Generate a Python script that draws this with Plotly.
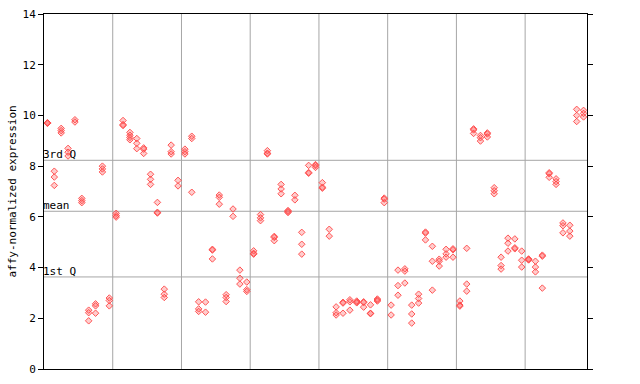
import plotly.graph_objects as go

# Expression values per sample (79 samples, replicates per sample)
sample_values = [
    [9.70, 9.69, 9.71], [7.80, 7.57, 7.24], [9.49, 9.40, 9.31], [8.70, 8.55, 8.40],
    [9.83, 9.74], [6.73, 6.64, 6.56], [2.32, 2.22, 1.90], [2.57, 2.49, 2.20],
    [8.00, 7.89, 7.77], [2.80, 2.70, 2.49], [6.14, 6.05, 5.99], [9.80, 9.64, 9.60],
    [9.33, 9.22, 9.13, 9.04], [9.09, 8.90, 8.69], [8.72, 8.67, 8.50], [7.68, 7.48, 7.28],
    [6.57, 6.18, 6.15], [3.15, 2.95, 2.82], [8.83, 8.57, 8.48], [7.44, 7.22],
    [8.67, 8.57, 8.48], [9.18, 9.09, 6.97], [2.65, 2.37, 2.27], [2.64, 2.24],
    [4.72, 4.69, 4.34], [6.86, 6.77, 6.50], [2.93, 2.82, 2.66], [6.31, 6.02],
    [3.90, 3.58, 3.35], [3.43, 3.13, 3.06], [4.66, 4.56, 4.53], [6.09, 5.96, 5.85],
    [8.61, 8.51, 8.48], [5.23, 5.19, 5.06], [7.28, 7.10, 6.91], [6.25, 6.21, 6.17],
    [6.85, 6.67], [5.39, 4.92, 4.53], [8.03, 7.75, 7.72], [8.06, 8.02, 7.95],
    [7.35, 7.17, 7.13], [5.51, 5.24], [2.45, 2.22, 2.13], [2.63, 2.60, 2.20],
    [2.73, 2.65, 2.32], [2.68, 2.64, 2.61], [2.65, 2.62, 2.44], [2.53, 2.20, 2.18],
    [2.76, 2.72, 2.68], [6.74, 6.70, 6.56], [2.52, 2.13], [3.90, 3.29, 2.91],
    [3.95, 3.86, 3.39], [2.52, 2.17, 1.81], [2.95, 2.78, 2.60], [5.40, 5.36, 5.09],
    [4.84, 4.25, 3.11], [4.33, 4.25, 4.06], [4.72, 4.54, 4.41], [4.74, 4.70, 4.41],
    [2.68, 2.52, 2.48], [4.76, 3.35, 3.07], [9.47, 9.43, 9.29], [9.21, 9.12, 8.99],
    [9.31, 9.27, 9.15], [7.15, 7.03, 6.91], [4.41, 4.08, 3.94], [5.16, 4.96, 4.65],
    [5.13, 4.78, 4.74], [4.65, 4.29, 4.02], [4.34, 4.32, 4.30], [4.25, 4.02, 3.83],
    [4.49, 4.45, 3.19], [7.74, 7.70, 7.56], [7.50, 7.39, 7.28], [5.76, 5.65, 5.37],
    [5.67, 5.44, 5.24], [10.24, 10.00, 9.76], [10.20, 10.08, 9.94],
]

ref_labels = ["3rd Q", "mean", "1st Q"]
ref_values = [8.23, 6.22, 3.63]

y_ticks = [0, 2, 4, 6, 8, 10, 12, 14]
group_size = 10

xs, ys = [], []
for i, vals in enumerate(sample_values):
    for v in vals:
        xs.append(i)
        ys.append(v)

n = len(sample_values)
FONT = "DejaVu Sans Mono"

fig = go.Figure()
fig.add_trace(go.Scatter(
    x=xs, y=ys, mode="markers",
    marker=dict(symbol="diamond", size=5, color="rgba(255,90,90,0.3)",
                line=dict(color="rgba(255,70,70,0.9)", width=1)),
    hoverinfo="y", showlegend=False,
))

shapes = []
for b in range(group_size, n, group_size):
    shapes.append(dict(type="line", xref="x", yref="paper", x0=b - 0.5, x1=b - 0.5,
                       y0=0, y1=1, line=dict(color="#a6a6a6", width=1), layer="below"))
annotations = []
for lab, val in zip(ref_labels, ref_values):
    shapes.append(dict(type="line", xref="paper", yref="y", x0=0, x1=1, y0=val, y1=val,
                       line=dict(color="#a6a6a6", width=1), layer="below"))
    annotations.append(dict(x=0, xref="paper", y=val, yref="y", text=lab, showarrow=False,
                            xanchor="left", yanchor="bottom", yshift=-3, xshift=-3,
                            font=dict(family=FONT, size=11, color="black")))
annotations.append(dict(x=0, xref="paper", y=0.5, yref="paper", xshift=-32,
                        text="affy-normalized expression", showarrow=False, textangle=-90,
                        xanchor="center", yanchor="middle",
                        font=dict(family=FONT, size=11, color="black")))

fig.update_layout(
    width=640, height=384,
    margin=dict(l=44, r=53, t=14, b=15, autoexpand=False),
    plot_bgcolor="white", paper_bgcolor="white",
    shapes=shapes, annotations=annotations,
    font=dict(family=FONT, size=11, color="black"),
    xaxis=dict(range=[-0.5, n - 0.5], showticklabels=False, ticks="", showgrid=False,
               zeroline=False, showline=True, linecolor="black", linewidth=1, mirror=True,
               automargin=False),
    yaxis=dict(range=[0, 14], tickvals=y_ticks, ticks="outside", ticklen=5,
               tickcolor="black", showgrid=False, zeroline=False, showline=True,
               linecolor="black", linewidth=1, mirror="ticks", automargin=False,
               tickfont=dict(family=FONT, size=11)),
)

fig.write_html("out.html", config={"displayModeBar": False},
               post_script="document.body.style.margin='0';document.body.style.overflow='hidden';")
